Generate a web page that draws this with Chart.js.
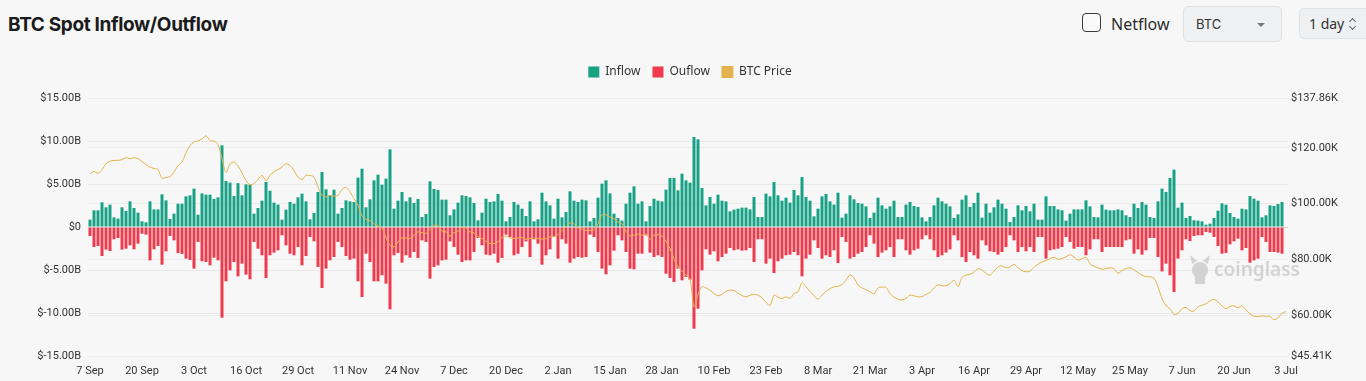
<!DOCTYPE html>
<html>
<head>
<meta charset="utf-8">
<script src="https://cdn.jsdelivr.net/npm/chart.js@4.4.1/dist/chart.umd.min.js"></script>
<style>
    html, body { margin: 0; padding: 0; background: #f7f7f7; width: 1366px; height: 381px; overflow: hidden; font-family: "Inter", "Noto Sans", sans-serif; }
    .title { position: absolute; left: 8px; top: 13px; font-size: 19px; font-weight: 700; color: #1b1b1b; letter-spacing: -0.35px; }
    .check { position: absolute; left: 1082px; top: 13px; width: 17px; height: 17px; border: 1.5px solid #3a3a3a; border-radius: 4px; background: #fafafa; }
    .netflow { position: absolute; left: 1111px; top: 13px; font-size: 16px; color: #2b2b2b; font-family: "Noto Sans", sans-serif; }
    .select { position: absolute; left: 1183px; top: 6px; width: 99px; height: 36px; background: #eef0f2; border: 1px solid #e0e3e6; border-radius: 5px; box-sizing: border-box; }
    .select span { position: absolute; left: 12px; top: 9px; font-size: 13px; color: #333; }
    .select i { position: absolute; right: 16px; top: 16px; width: 0; height: 0; border-left: 4px solid transparent; border-right: 4px solid transparent; border-top: 4px solid #777; }
    .period { position: absolute; left: 1299px; top: 8px; width: 80px; height: 31px; background: #eef0f2; border: 1px solid #e0e3e6; border-radius: 5px; box-sizing: border-box; }
    .period span { position: absolute; left: 9px; top: 5px; font-size: 14px; color: #333; font-family: "Noto Sans", sans-serif; }
    .period i { position: absolute; left: 50px; width: 4px; height: 4px; border-left: 1.3px solid #666; border-top: 1.3px solid #666; }
    .period i.up { top: 10px; transform: rotate(45deg); }
    .period i.down { top: 15px; transform: rotate(225deg); }
    .chartBox { position: absolute; left: 0; top: 50px; width: 1366px; height: 331px; }
</style>
</head>
<body>
<div class="title">BTC Spot Inflow/Outflow</div>
<div class="check"></div>
<div class="netflow">Netflow</div>
<div class="select"><span>BTC</span><i></i></div>
<div class="period"><span>1 day</span><i class="up"></i><i class="down"></i></div>
<div class="chartBox"><canvas class="chartFlow"></canvas></div>
<script>
/*
* Данные графика: приток / отток BTC (млрд $) и цена BTC (тыс. $), по дням с 7 Sep
*/
const inflowData = [
    0.85, 1.94, 1.94, 2.87, 2.29, 2.6, 1.12, 0.97, 2.29, 1.86,
    2.98, 2.21, 1.67, 0.66, 0.54, 2.98, 2.05, 2.05, 3.8, 3.1,
    0.93, 1.55, 2.71, 2.71, 3.57, 3.68, 4.46, 1.43, 3.91, 3.76,
    3.76, 3.26, 3.45, 9.5, 5.35,
    5.16, 3.6, 5.1, 3.68, 4.96, 4.92, 1.55, 2.21, 3.06, 5.23,
    4.22, 2.83, 2.6, 0.85, 2.02, 2.91, 2.71, 3.45, 3.88, 2.98,
    0.89, 1.63, 4.07, 6.4, 4.38, 3.68, 4.34, 1.55, 2.21, 3.1,
    2.98, 2.91, 5.74, 6.78, 2.29, 3.22, 5.43, 6.09,
    4.92, 5.62, 9.03, 2.13, 3.06, 4.07, 2.98, 3.45, 2.79, 3.26,
    1.16, 1.51, 5.31, 4.42, 4.3, 3.18, 3.18, 1.36, 2.05, 2.83,
    3.68, 3.6, 3.45, 2.79, 0.78, 1.67, 3.29, 2.91, 2.98, 3.84,
    3.06, 0.66, 1.16, 2.91, 2.6, 2.13, 1.28, 2.98,
    0.66, 0.89, 3.99, 2.98, 2.52, 0.97, 3.29, 1.12, 1.74, 4.15,
    3.06, 2.91, 3.18, 3.1, 0.66, 1.05, 3.41, 5.04, 5.43, 3.91,
    1.55, 1.05, 0.74, 2.71, 3.99, 4.73, 2.71, 2.98, 0.66, 2.44,
    3.29, 3.06, 2.98, 4.34, 5.7, 5.7, 4.26,
    6.2, 5.43, 5.16, 10.47, 10.19, 4.53, 2.52, 3.49, 2.71, 3.76,
    3.06, 2.98, 1.82, 2.02, 2.13, 2.25, 2.25, 2.05, 3.49, 1.16,
    1.16, 3.88, 3.57, 5.23, 3.68, 3.06, 3.41, 2.83, 4.3, 3.68,
    5.81, 3.49, 3.06, 1.24, 2.13, 3.57, 3.84, 2.98,
    2.6, 3.99, 1.09, 1.55, 3.68, 3.22, 2.79, 2.71, 2.4, 1.05,
    1.67, 3.41, 2.52, 2.13, 2.4, 3.06, 1.16, 1.16, 2.6, 2.91,
    2.44, 2.33, 1.12, 0.66, 1.16, 2.52, 3.41, 2.98, 2.71, 2.4,
    1.05, 1.47, 3.18, 3.68, 2.33, 2.79, 3.99,
    1.09, 2.71, 1.67, 2.29, 3.18, 2.71, 2.13, 0.58, 1.16, 2.52,
    1.94, 2.44, 1.82, 2.71, 0.85, 0.85, 3.57, 2.44, 2.44, 2.05,
    1.94, 0.74, 1.55, 2.05, 2.05, 2.05, 3.1, 2.4, 1.16, 1.12,
    2.6, 2.02, 1.94, 1.94, 2.05, 1.94, 1.36, 1.16,
    2.71, 2.21, 2.91, 2.6, 1.16, 1.05, 2.98, 4.46, 4.07, 5.7,
    6.67, 2.25, 2.83, 1.05, 1.28, 0.78, 0.74, 0.66, 0.27, 0.39,
    1.05, 1.9, 2.75, 2.6, 1.63, 1.16, 0.97, 2.13, 2.05, 3.6,
    3.29, 3.06, 1.12, 1.36, 2.52, 2.44, 2.67, 2.91, 0.05
];

const outflowData = [
    -1.05, -2.33, -2.21, -3.37, -2.63, -2.79, -1.43, -1.28, -2.63, -2.52,
    -2.13, -2.6, -1.94, -0.78, -0.89, -3.88, -2.6, -2.21, -4.38, -2.83,
    -1.05, -1.55, -3.02, -3.14, -3.68, -3.84, -4.84, -1.74, -3.98, -4.07,
    -4.46, -3.57, -3.88, -10.54, -6.32,
    -5.04, -4.07, -5.74, -4.26, -5.54, -6.08, -1.74, -2.52, -3.29, -5.93,
    -3.29, -2.98, -2.71, -0.97, -2.13, -3.1, -3.29, -2.33, -4.46, -3.37,
    -1.16, -1.67, -4.65, -7.09, -4.84, -3.88, -3.49, -1.74, -2.33, -3.37,
    -3.8, -3.68, -6.32, -8.14, -3.1, -4.07, -6.32, -6.32,
    -5.62, -6.59, -9.57, -3.29, -3.02, -4.15, -3.29, -3.57, -2.91, -3.6,
    -1.55, -1.74, -6.0, -4.65, -4.46, -3.88, -3.8, -1.67, -2.33, -3.22,
    -4.07, -3.88, -3.88, -2.91, -1.28, -2.13, -3.22, -3.29, -3.1, -4.15,
    -3.6, -0.89, -1.16, -3.29, -3.1, -2.33, -1.67, -3.49,
    -1.43, -1.94, -4.38, -3.29, -2.6, -1.16, -3.68, -1.43, -1.94, -4.15,
    -3.68, -3.49, -3.57, -3.49, -0.89, -1.16, -2.91, -4.84, -5.5, -4.46,
    -2.75, -0.97, -1.55, -2.91, -4.84, -4.92, -3.1, -3.1, -0.97, -2.98,
    -3.49, -3.29, -3.49, -5.43, -5.93, -6.4, -4.84,
    -6.2, -5.81, -6.12, -11.82, -9.5, -5.04, -2.6, -3.22, -2.83, -3.99,
    -3.49, -3.1, -2.44, -2.71, -2.6, -2.75, -2.71, -2.44, -4.07, -1.43,
    -1.43, -4.26, -3.68, -5.35, -3.99, -3.68, -3.29, -3.22, -2.91, -3.29,
    -5.74, -3.68, -3.22, -1.55, -2.44, -3.68, -3.29, -3.49,
    -2.71, -4.19, -1.16, -1.74, -3.68, -3.49, -3.1, -2.91, -2.33, -0.97,
    -1.94, -3.49, -2.98, -2.71, -2.33, -3.49, -1.43, -1.43, -2.71, -3.22,
    -2.71, -2.52, -1.43, -0.97, -1.43, -2.71, -3.49, -3.29, -2.98, -2.6,
    -0.97, -1.55, -3.49, -4.07, -2.91, -3.29, -3.68,
    -1.55, -2.13, -2.83, -2.91, -3.22, -2.91, -2.33, -0.97, -1.55, -2.91,
    -2.33, -2.83, -2.33, -2.91, -1.16, -1.16, -3.68, -2.71, -2.6, -2.52,
    -2.33, -1.16, -1.74, -2.52, -2.33, -2.33, -3.29, -2.6, -1.43, -1.43,
    -2.91, -2.33, -2.33, -2.33, -2.33, -2.33, -1.55, -1.43,
    -3.1, -2.6, -3.22, -2.71, -1.28, -1.28, -3.49, -5.16, -4.26, -5.62,
    -7.56, -3.68, -2.71, -1.43, -1.63, -1.05, -0.97, -0.97, -0.58, -0.66,
    -1.16, -2.21, -3.1, -3.02, -2.02, -1.67, -1.36, -2.71, -2.44, -4.15,
    -3.88, -3.68, -1.16, -1.74, -2.91, -2.91, -2.98, -3.1, -0.03
];

const priceData = [
    110.7, 111.5, 110.9, 112.2, 114.3, 115.2, 115.5, 115.5, 115.8, 116.5,
    116.1, 116.5, 116.1, 115.1, 114.0, 113.1, 112.6, 112.2, 109.1, 109.4,
    109.7, 111.3, 113.7, 114.9, 118.2, 120.8, 122.1, 122.5, 123.2, 124.3,
    122.6, 122.4, 121.2, 116.1, 111.2,
    114.3, 114.9, 113.5, 111.0, 108.3, 106.8, 107.2, 108.7, 110.1, 108.3,
    110.1, 111.5, 112.2, 113.1, 114.3, 113.7, 111.9, 109.5, 108.7, 110.1,
    110.1, 109.5, 106.0, 103.0, 102.4, 103.0, 102.7, 103.0, 105.1, 105.8,
    104.2, 101.8, 99.4, 95.6, 94.4, 93.9, 92.7, 92.0,
    91.3, 87.8, 85.1, 84.5, 86.3, 87.7, 87.7, 87.5, 88.7, 89.9,
    89.6, 89.3, 90.8, 92.2, 92.2, 90.1, 89.9, 88.4, 89.6, 90.1,
    91.5, 91.3, 89.9, 89.6, 88.1, 87.5, 86.5, 85.8, 85.7, 86.3,
    87.9, 88.4, 87.7, 87.5, 87.7, 87.9, 87.2, 87.5,
    87.7, 87.5, 87.3, 87.5, 88.1, 88.2, 88.9, 90.4, 91.6, 93.1,
    92.8, 91.3, 90.9, 90.4, 90.4, 90.8, 92.8, 96.0, 96.0, 95.2,
    94.6, 93.4, 92.8, 90.1, 88.4, 88.7, 89.1, 88.7, 89.1, 87.2,
    88.7, 88.9, 88.4, 86.5, 83.9, 80.3, 77.3,
    75.8, 74.4, 72.9, 63.0, 67.5, 70.2, 69.8, 69.0, 67.8, 67.0,
    67.5, 68.6, 69.0, 68.9, 67.9, 67.1, 66.6, 67.2, 67.5, 67.2,
    66.3, 64.6, 63.6, 67.2, 66.5, 66.0, 66.6, 66.0, 67.8, 68.4,
    71.7, 70.2, 68.6, 67.0, 65.8, 67.2, 68.6, 69.6,
    70.2, 70.4, 71.0, 72.6, 74.4, 73.4, 70.8, 69.8, 69.2, 68.4,
    67.7, 69.8, 70.1, 70.0, 67.8, 66.5, 65.8, 65.5, 66.0, 67.2,
    67.0, 66.6, 66.7, 67.5, 68.2, 69.8, 70.9, 70.6, 70.6, 71.4,
    72.5, 70.3, 73.6, 74.4, 74.7, 75.5, 76.7,
    76.2, 75.0, 74.4, 75.8, 77.3, 77.7, 77.0, 77.3, 78.2, 77.0,
    76.0, 75.6, 75.8, 77.2, 78.3, 79.1, 79.6, 80.3, 80.8, 80.1,
    80.3, 81.0, 81.7, 80.9, 79.8, 80.3, 80.8, 78.5, 77.6, 77.0,
    76.5, 76.7, 77.0, 76.7, 75.1, 76.0, 76.7, 77.0,
    76.3, 75.3, 74.4, 73.8, 73.8, 73.3, 70.2, 66.0, 63.4, 62.4,
    60.3, 60.7, 62.4, 62.8, 61.7, 61.5, 63.0, 63.6, 64.1, 65.1,
    65.7, 64.8, 63.3, 62.4, 63.2, 63.4, 62.7, 63.4, 61.9, 60.5,
    59.7, 59.5, 59.8, 59.6, 59.6, 58.4, 59.1, 60.7, 61.3
];

// подписи осей
const monthNames = ['Jan', 'Feb', 'Mar', 'Apr', 'May', 'Jun', 'Jul', 'Aug', 'Sep', 'Oct', 'Nov', 'Dec'];
const firstDay = Date.UTC(2025, 8, 7);
const dayLabels = inflowData.map((v, i) => {
    const d = new Date(firstDay + i * 86400000);
    return d.getUTCDate() + ' ' + monthNames[d.getUTCMonth()];
});
const labelStep = 13;
const flowTicks = [-15, -10, -5, 0, 5, 10, 15];
const priceTicks = [45.41, 60, 80, 100, 120, 137.86];

// отступ между легендой и графиком, легенда чуть правее (по центру области графика)
const legendGap = {
    id: 'legendGap',
    beforeInit(chart) {
        const legend = chart.legend;
        const fit = legend.fit;
        const draw = legend.draw;
        legend.fit = function () {
            fit.call(legend);
            this.height += 10;
        };
        legend.draw = function () {
            legend.ctx.save();
            legend.ctx.translate(7, 0);
            draw.call(legend);
            legend.ctx.restore();
        };
    }
};

// водяной знак coinglass
const watermark = {
    id: 'watermark',
    beforeDatasetsDraw(chart) {
        const ctx = chart.ctx;
        ctx.save();
        ctx.fillStyle = '#d2d2d2';
        ctx.beginPath();
        ctx.arc(1200, 220, 8, 0, Math.PI * 2);
        ctx.fill();
        ctx.beginPath();
        ctx.moveTo(1192, 214); ctx.lineTo(1190, 205); ctx.lineTo(1197, 211);
        ctx.moveTo(1208, 214); ctx.lineTo(1210, 205); ctx.lineTo(1203, 211);
        ctx.fill();
        ctx.fillRect(1195, 224, 10, 10);
        ctx.font = '600 19px "Noto Sans"';
        ctx.textBaseline = 'middle';
        ctx.fillText('coinglass', 1214, 221);
        ctx.restore();
    }
};

document.addEventListener('DOMContentLoaded', () => {
    new Chart(
        document.querySelector('.chartFlow'),
        {
            type: 'bar',
            data: {
                labels: dayLabels,
                datasets: [
                    {
                        label: 'Inflow',
                        data: inflowData,
                        backgroundColor: '#17a185',
                        yAxisID: 'y',
                        barPercentage: 0.75,
                        categoryPercentage: 1
                    },
                    {
                        label: 'Ouflow',
                        data: outflowData,
                        backgroundColor: '#ee3a4d',
                        yAxisID: 'y',
                        barPercentage: 0.75,
                        categoryPercentage: 1
                    },
                    {
                        type: 'line',
                        label: 'BTC Price',
                        data: priceData,
                        yAxisID: 'y1',
                        borderColor: '#e3b44e',
                        backgroundColor: '#e3b44e',
                        borderWidth: 1,
                        pointRadius: 0,
                        tension: 0.35,
                        order: -1 // линия поверх столбцов
                    }
                ]
            },
            options: {
                responsive: true,
                maintainAspectRatio: false,
                animation: false,
                layout: { padding: { top: 4, bottom: 0 } },
                plugins: {
                    legend: {
                        position: 'top',
                        labels: {
                            boxWidth: 11,
                            boxHeight: 11,
                            padding: 12,
                            color: '#333',
                            font: { family: 'Noto Sans', size: 12 },
                            sort: (a, b) => a.datasetIndex - b.datasetIndex
                        }
                    },
                    tooltip: { enabled: false }
                },
                scales: {
                    x: {
                        stacked: true,
                        grid: { display: false },
                        border: { display: false },
                        afterFit: s => { s.height = 25; },
                        ticks: {
                            autoSkip: false,
                            maxRotation: 0,
                            padding: 1,
                            color: '#333',
                            font: { family: 'Roboto', size: 11 },
                            callback: (v, i) => i % labelStep === 0 ? dayLabels[i] : ''
                        }
                    },
                    y: {
                        position: 'left',
                        min: -15,
                        max: 15,
                        afterBuildTicks: s => { s.ticks = flowTicks.map(v => ({ value: v })); },
                        afterFit: s => { s.width = 88; },
                        grid: { color: '#e9e9e9', drawTicks: false },
                        border: { display: false },
                        ticks: {
                            padding: 7,
                            color: '#333',
                            font: { family: 'Roboto', size: 11 },
                            callback: v => v === 0 ? '$0' : '$' + v.toFixed(2) + 'B'
                        }
                    },
                    y1: {
                        position: 'right',
                        min: 45.41,
                        max: 137.86,
                        afterBuildTicks: s => { s.ticks = priceTicks.map(v => ({ value: v })); },
                        afterFit: s => { s.width = 78; },
                        grid: { color: '#ececec', drawTicks: false },
                        border: { display: false },
                        ticks: {
                            padding: 3,
                            color: '#333',
                            font: { family: 'Roboto', size: 11 },
                            callback: v => '$' + v.toFixed(2) + 'K'
                        }
                    }
                }
            },
            plugins: [legendGap, watermark]
        }
    );
});
</script>
</body>
</html>
